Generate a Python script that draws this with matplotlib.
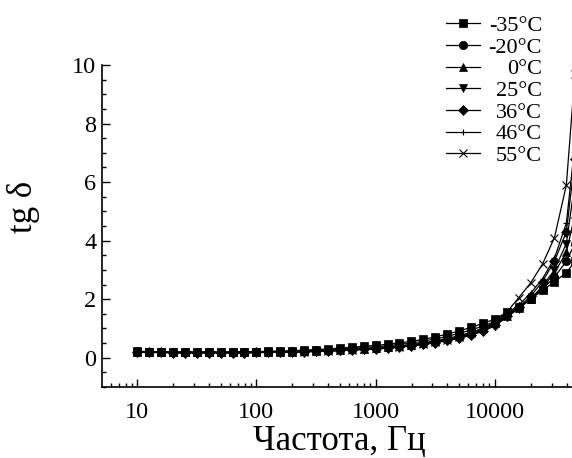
import matplotlib
matplotlib.use("Agg")
import matplotlib.pyplot as plt
from matplotlib.ticker import MultipleLocator, LogLocator, NullFormatter, FixedLocator, FixedFormatter

plt.rcParams['font.family'] = ['Liberation Serif', 'DejaVu Serif']

freq = [10, 12.6, 15.8, 20, 25.1, 31.6, 39.8, 50.1, 63.1, 79.4,
        100, 126, 158, 200, 251, 316, 398, 501, 631, 794,
        1000, 1259, 1585, 1995, 2512, 3162, 3981, 5012, 6310, 7943,
        10000, 12589, 15849, 19953, 25119, 31623, 39811, 47000]

tg_m35 = [0.22, 0.21, 0.21, 0.20, 0.20, 0.20, 0.20, 0.20, 0.20, 0.21,
          0.21, 0.22, 0.23, 0.24, 0.26, 0.28, 0.30, 0.33, 0.36, 0.39,
          0.42, 0.46, 0.51, 0.56, 0.63, 0.71, 0.81, 0.91, 1.04, 1.17,
          1.32, 1.55, 1.75, 2.00, 2.30, 2.60, 2.90, 3.30]
tg_m20 = [0.21, 0.20, 0.20, 0.19, 0.19, 0.19, 0.19, 0.19, 0.19, 0.19,
          0.20, 0.20, 0.21, 0.22, 0.24, 0.25, 0.27, 0.30, 0.32, 0.35,
          0.38, 0.41, 0.46, 0.50, 0.57, 0.64, 0.73, 0.83, 0.95, 1.08,
          1.24, 1.48, 1.72, 2.00, 2.35, 2.75, 3.30, 3.90]
tg_0 = [0.20, 0.19, 0.19, 0.18, 0.18, 0.18, 0.18, 0.18, 0.18, 0.18,
        0.19, 0.19, 0.20, 0.21, 0.22, 0.23, 0.25, 0.27, 0.29, 0.31,
        0.34, 0.37, 0.41, 0.45, 0.51, 0.58, 0.66, 0.75, 0.87, 1.00,
        1.17, 1.42, 1.70, 2.00, 2.40, 2.90, 3.60, 4.90]
tg_25 = [0.19, 0.18, 0.18, 0.17, 0.17, 0.17, 0.17, 0.17, 0.17, 0.17,
         0.18, 0.18, 0.19, 0.20, 0.20, 0.21, 0.23, 0.24, 0.26, 0.28,
         0.30, 0.33, 0.36, 0.40, 0.45, 0.51, 0.58, 0.66, 0.77, 0.90,
         1.09, 1.38, 1.68, 2.00, 2.45, 3.00, 3.90, 6.00]
tg_36 = [0.19, 0.18, 0.18, 0.17, 0.17, 0.17, 0.17, 0.17, 0.17, 0.17,
         0.18, 0.18, 0.19, 0.20, 0.21, 0.22, 0.23, 0.25, 0.27, 0.29,
         0.31, 0.34, 0.37, 0.41, 0.46, 0.52, 0.59, 0.68, 0.79, 0.92,
         1.12, 1.42, 1.72, 2.10, 2.60, 3.30, 4.30, 6.80]
tg_46 = [0.20, 0.19, 0.19, 0.18, 0.18, 0.18, 0.18, 0.18, 0.18, 0.18,
         0.18, 0.19, 0.19, 0.20, 0.21, 0.22, 0.24, 0.25, 0.27, 0.30,
         0.32, 0.35, 0.38, 0.42, 0.47, 0.53, 0.61, 0.70, 0.81, 0.95,
         1.15, 1.48, 1.80, 2.20, 2.70, 3.40, 4.60, 7.30]
tg_55 = [0.20, 0.19, 0.19, 0.18, 0.18, 0.18, 0.18, 0.18, 0.18, 0.18,
         0.18, 0.19, 0.19, 0.20, 0.21, 0.22, 0.24, 0.25, 0.27, 0.30,
         0.32, 0.35, 0.38, 0.42, 0.47, 0.54, 0.62, 0.72, 0.85, 1.00,
         1.22, 1.55, 2.05, 2.55, 3.20, 4.10, 5.90, 9.70]

labels = ["-35°C", "-20°C", "0°C", "25°C", "36°C", "46°C", "55°C"]
series = [tg_m35, tg_m20, tg_0, tg_25, tg_36, tg_46, tg_55]
markers = ['s', 'o', '^', 'v', 'D', '+', 'x']
msizes = [6, 6, 6, 6, 5, 5, 6]

x_ticks = [10, 100, 1000, 10000]
x_ticklabels = ["10", "100", "1000", "10000"]
y_ticks = [0, 2, 4, 6, 8, 10]

fig = plt.figure(figsize=(5.72, 4.58), dpi=100)
ax = fig.add_axes([0.178, 0.155, 0.83, 0.703])

for y, lab, m, ms in zip(series, labels, markers, msizes):
    ax.plot(freq, y, color='black', lw=0.9, marker=m, ms=ms,
            mew=0.8 if m in ('+', 'x') else 0.5, mfc='black', mec='black',
            label=lab)

ax.set_xscale('log')
ax.set_xlim(5.05, 48500)
ax.set_ylim(-1, 10)

ax.xaxis.set_major_locator(FixedLocator(x_ticks))
ax.xaxis.set_major_formatter(FixedFormatter(x_ticklabels))
ax.xaxis.set_minor_locator(LogLocator(base=10, subs=range(2, 10), numticks=20))
ax.xaxis.set_minor_formatter(NullFormatter())
ax.yaxis.set_major_locator(FixedLocator(y_ticks))
ax.yaxis.set_minor_locator(MultipleLocator(0.5))

ax.tick_params(which='both', direction='in', top=False, right=False, width=1)
ax.tick_params(which='major', length=6, labelsize=17.5)
ax.tick_params(which='minor', length=3)
ax.tick_params(axis='x', which='major', pad=11)
ax.tick_params(axis='y', which='major', pad=4)

for s in ['top', 'right']:
    ax.spines[s].set_visible(False)
for s in ['left', 'bottom']:
    ax.spines[s].set_linewidth(1.2)

ax.set_xlabel("Частота, Гц", fontsize=25, labelpad=1)
ax.set_ylabel("tg δ", fontsize=25)
ax.yaxis.set_label_coords(-0.131, 0.56)

leg = fig.legend(loc='upper right', bbox_to_anchor=(0.9476, 0.966),
                 bbox_transform=fig.transFigure, frameon=False,
                 fontsize=16, handlelength=1.5, handletextpad=0.4,
                 labelspacing=0.05, borderaxespad=0.0, borderpad=0.0)
fig.canvas.draw()
renderer = fig.canvas.get_renderer()
widths = [t.get_window_extent(renderer).width for t in leg.get_texts()]
maxw = max(widths)
for t, w in zip(leg.get_texts(), widths):
    t.set_position((maxw - w, 0))

fig.savefig("out.png", dpi=100)
